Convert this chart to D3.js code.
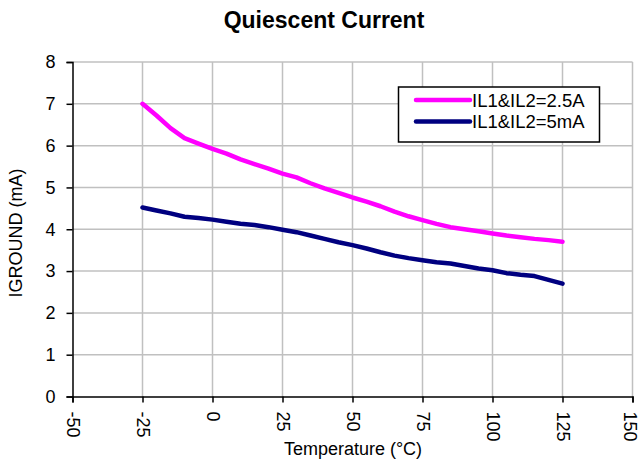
<!DOCTYPE html>
<html><head><meta charset="utf-8">
<script src="https://cdn.jsdelivr.net/npm/d3@7"></script>
<style>body{margin:0;background:#fff}svg{font-family:"Liberation Sans",Arial,sans-serif}</style>
</head><body><svg id="c" width="640" height="463"></svg>
<script>
const temps = [-25,-20,-15,-10,-5,0,5,10,15,20,25,30,35,40,45,50,55,60,65,70,75,80,85,90,95,100,105,110,115,120,125];
const series1 = [7.00,6.72,6.42,6.18,6.05,5.92,5.81,5.67,5.56,5.45,5.33,5.24,5.10,4.98,4.87,4.76,4.66,4.55,4.42,4.31,4.22,4.13,4.05,4.00,3.95,3.90,3.85,3.81,3.77,3.74,3.70];
const series2 = [4.52,4.45,4.38,4.30,4.27,4.23,4.18,4.13,4.10,4.05,3.99,3.93,3.85,3.77,3.69,3.62,3.54,3.45,3.37,3.31,3.26,3.21,3.18,3.12,3.06,3.02,2.95,2.91,2.88,2.79,2.70];
const seriesNames = ["IL1&IL2=2.5A","IL1&IL2=5mA"];
const colors = ["#FF00FF","#000080"];
const xTicks = [-50,-25,0,25,50,75,100,125,150];
const yTicks = [0,1,2,3,4,5,6,7,8];

const FONT = "Liberation Sans, Arial, sans-serif";
const svg = d3.select("#c");
const x = d3.scaleLinear().domain([-50,150]).range([72.5,632.5]);
const y = d3.scaleLinear().domain([0,8]).range([396.5,62]);

// gridlines
svg.append("g").selectAll("line").data(xTicks.slice(1)).join("line")
  .attr("x1",d=>x(d)).attr("x2",d=>x(d)).attr("y1",y(0)).attr("y2",y(8))
  .attr("stroke","#c0c0c0").attr("stroke-width",1.5);
svg.append("g").selectAll("line").data(yTicks.slice(1)).join("line")
  .attr("x1",x(-50)).attr("x2",x(150)).attr("y1",d=>y(d)).attr("y2",d=>y(d))
  .attr("stroke","#c0c0c0").attr("stroke-width",1.5);

// axes
const ya = svg.append("g").attr("transform",`translate(${x(-50)},0)`)
  .call(d3.axisLeft(y).tickValues(yTicks).tickSize(6).tickPadding(11).tickFormat(d=>String(d)));
ya.select(".domain").attr("stroke","#000").attr("stroke-width",1.5);
ya.selectAll(".tick line").attr("stroke","#000").attr("stroke-width",1.5);
ya.selectAll("text").attr("font-size",18).attr("fill","#000").attr("font-family",FONT);

const xa = svg.append("g").attr("transform",`translate(0,${y(0)})`)
  .call(d3.axisBottom(x).tickValues(xTicks).tickSize(6).tickFormat(d=>String(d)));
xa.select(".domain").attr("stroke","#000").attr("stroke-width",1.5);
xa.selectAll(".tick line").attr("stroke","#000").attr("stroke-width",1.5);
xa.selectAll("text").attr("font-size",18).attr("fill","#000").attr("font-family",FONT)
  .attr("text-anchor","start").attr("dy","0.32em").attr("y",0)
  .attr("transform",(d,i)=>`translate(${i===xTicks.length-1?-3:0},15) rotate(90)`);

// lines
const line = d3.line().x((d,i)=>x(temps[i])).y(d=>y(d));
[series1,series2].forEach((s,i)=>{
  svg.append("path").datum(s).attr("d",line).attr("fill","none")
    .attr("stroke",colors[i]).attr("stroke-width",4.5).attr("stroke-linejoin","round").attr("stroke-linecap","round");
});

// title
svg.append("text").attr("x",324).attr("y",28).attr("text-anchor","middle")
  .attr("font-size",23).attr("font-weight","bold").text("Quiescent Current");
// axis titles
svg.append("text").attr("x",353).attr("y",455).attr("text-anchor","middle")
  .attr("font-size",18).text("Temperature (°C)");
svg.append("text").attr("transform","translate(22,233) rotate(-90)").attr("text-anchor","middle")
  .attr("font-size",18).text("IGROUND (mA)");

// legend
const lg = svg.append("g");
lg.append("rect").attr("x",398.5).attr("y",87).attr("width",201).attr("height",55)
  .attr("fill","#fff").attr("stroke","#000").attr("stroke-width",1.5);
seriesNames.forEach((n,i)=>{
  const yy = 100 + i*21.5;
  lg.append("line").attr("x1",416).attr("x2",470).attr("y1",yy).attr("y2",yy)
    .attr("stroke",colors[i]).attr("stroke-width",4.5).attr("stroke-linecap","round");
  lg.append("text").attr("x",472).attr("y",yy).attr("dy","0.36em").attr("font-size",18.5).text(n);
});
</script></body></html>
